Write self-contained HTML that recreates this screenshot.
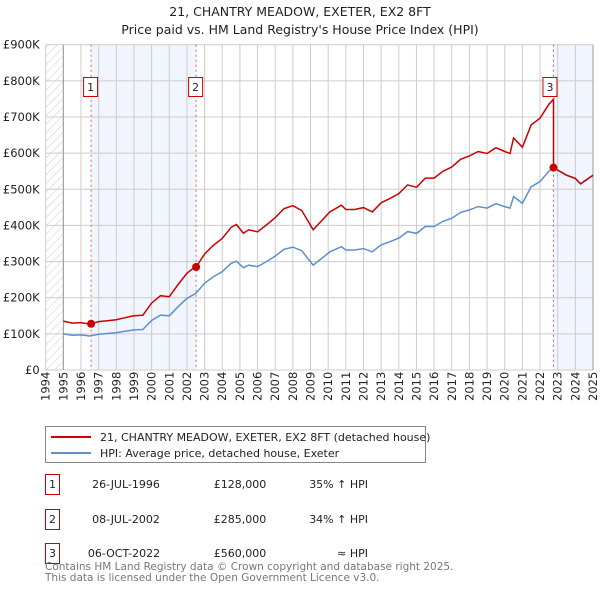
<!DOCTYPE html>
<html><head><meta charset="utf-8">
<style>
body{margin:0;background:#fff;font-family:"DejaVu Sans","Liberation Sans",sans-serif;}
svg text{font-family:"DejaVu Sans","Liberation Sans",sans-serif;}
</style></head>
<body>
<svg id="chart" width="600" height="590" xmlns="http://www.w3.org/2000/svg">
<defs>
<pattern id="hatch" patternUnits="userSpaceOnUse" width="6" height="6" patternTransform="rotate(45)">
<line x1="0" y1="0" x2="0" y2="6" stroke="#ccc" stroke-width="1"/>
</pattern>
</defs>
<text x="300" y="16" text-anchor="middle" font-size="12.5" fill="#222">21, CHANTRY MEADOW, EXETER, EX2 8FT</text>
<text x="300" y="34" text-anchor="middle" font-size="12.5" fill="#222">Price paid vs. HM Land Registry's House Price Index (HPI)</text>
<g id="plot"></g>
<g>
<rect x="45.5" y="426.5" width="380" height="36" fill="#fff" stroke="#888"/>
<line x1="51" y1="437" x2="91" y2="437" stroke="#cc0000" stroke-width="2"/>
<text x="100" y="441" font-size="11" fill="#222">21, CHANTRY MEADOW, EXETER, EX2 8FT (detached house)</text>
<line x1="51" y1="453" x2="91" y2="453" stroke="#5b8fd0" stroke-width="2"/>
<text x="100" y="457" font-size="11" fill="#222">HPI: Average price, detached house, Exeter</text>
</g>
<g font-size="11" fill="#222">
<rect x="45.5" y="474.5" width="14" height="20" fill="#fff" stroke="#cc0000"/><text x="52.5" y="488" text-anchor="middle">1</text>
<text x="126" y="488" text-anchor="middle">26-JUL-1996</text><text x="240" y="488" text-anchor="middle">£128,000</text><text x="368" y="488" text-anchor="end">35% ↑ HPI</text>
<rect x="45.5" y="509.5" width="14" height="20" fill="#fff" stroke="#cc0000"/><text x="52.5" y="523" text-anchor="middle">2</text>
<text x="126" y="523" text-anchor="middle">08-JUL-2002</text><text x="240" y="523" text-anchor="middle">£285,000</text><text x="368" y="523" text-anchor="end">34% ↑ HPI</text>
<rect x="45.5" y="543.5" width="14" height="20" fill="#fff" stroke="#cc0000"/><text x="52.5" y="557" text-anchor="middle">3</text>
<text x="124" y="557" text-anchor="middle">06-OCT-2022</text><text x="240" y="557" text-anchor="middle">£560,000</text><text x="368" y="557" text-anchor="end">≈ HPI</text>
</g>
<text font-size="10.5" fill="#777"><tspan x="45" y="570">Contains HM Land Registry data © Crown copyright and database right 2025.</tspan><tspan x="45" y="581">This data is licensed under the Open Government Licence v3.0.</tspan></text>
</svg>
<script>
const hpiYears=[1995,1995.5,1996,1996.5,1997,1997.5,1998,1998.5,1999,1999.5,2000,2000.5,2001,2001.5,2002,2002.5,2003,2003.5,2004,2004.5,2004.8,2005.2,2005.5,2006,2006.5,2007,2007.5,2008,2008.5,2009.15,2010.1,2010.75,2011,2011.5,2012,2012.5,2013,2013.5,2014,2014.5,2015,2015.5,2016,2016.5,2017,2017.5,2018,2018.5,2019,2019.5,2020,2020.3,2020.5,2021,2021.5,2022,2022.5,2022.76,2023,2023.5,2024,2024.3,2025];
const hpiValues=[100000,96000,97000,94000,99000,101000,103000,107000,111000,112000,137000,152000,150000,175000,198000,212000,240000,258000,272000,295000,301000,283000,290000,286000,300000,315000,334000,340000,330000,290000,327000,341000,332000,332000,336000,327000,346000,355000,365000,383000,378000,397000,397000,411000,420000,436000,443000,452000,448000,460000,452000,448000,480000,461000,507000,521000,550000,560000,553000,539000,530000,515000,539000];
const saleYears=[1996.57,2002.52,2022.76];
const salePrices=[128000,285000,560000];
const yTicks=[0,100000,200000,300000,400000,500000,600000,700000,800000,900000];
const yTickLabels=["£0","£100K","£200K","£300K","£400K","£500K","£600K","£700K","£800K","£900K"];
const xYears=[1994,1995,1996,1997,1998,1999,2000,2001,2002,2003,2004,2005,2006,2007,2008,2009,2010,2011,2012,2013,2014,2015,2016,2017,2018,2019,2020,2021,2022,2023,2024,2025];

const NS="http://www.w3.org/2000/svg";
const g=document.getElementById('plot');
const X0=45.7,X1=593,Y0=370,Y1=44.7;
const xs=y=>X0+(y-1994)/(2025-1994)*(X1-X0);
const ys=v=>Y0-v/900000*(Y0-Y1);
function mk(tag,attrs){const e=document.createElementNS(NS,tag);for(const k in attrs)e.setAttribute(k,attrs[k]);g.appendChild(e);return e;}
function hpiAt(t){if(t<=hpiYears[0])return hpiValues[0];for(let i=1;i<hpiYears.length;i++){if(t<=hpiYears[i]){const f=(t-hpiYears[i-1])/(hpiYears[i]-hpiYears[i-1]);return hpiValues[i-1]+f*(hpiValues[i]-hpiValues[i-1]);}}return hpiValues[hpiValues.length-1];}

let e;
e=mk('rect',{x:X0,y:Y1,width:xs(1995)-X0,height:Y0-Y1,fill:'url(#hatch)'});


e=mk('rect',{x:xs(saleYears[0]),y:Y1,width:xs(saleYears[1])-xs(saleYears[0]),height:Y0-Y1,fill:'#eef3fc',opacity:0.8});


e=mk('rect',{x:xs(saleYears[2]),y:Y1,width:X1-xs(saleYears[2]),height:Y0-Y1,fill:'#eef3fc',opacity:0.8});


xYears.forEach(yr=>{
  e=mk('line',{x1:xs(yr),x2:xs(yr),y1:Y1,y2:Y0,stroke:'#ccc','stroke-width':1});
  
  
  e=mk('text',{transform:`translate(${xs(yr)+4},${Y0+31}) rotate(-90)`,'font-size':11.5,fill:'#222'});
  e.textContent=yr;
  
  
});
yTicks.forEach((v,i)=>{
  e=mk('line',{x1:X0,x2:X1,y1:ys(v),y2:ys(v),stroke:'#ccc','stroke-width':1});
  
  
  e=mk('text',{x:X0-6,y:ys(v)+4,'text-anchor':'end','font-size':11.5,fill:'#222'});
  e.textContent=yTickLabels[i];
  
  
});
e=mk('line',{x1:xs(1995),x2:xs(1995),y1:Y1,y2:Y0,stroke:'#999','stroke-width':1});


e=mk('line',{x1:X1,x2:X1,y1:Y1,y2:Y0,stroke:'#999','stroke-width':1});


saleYears.forEach((sy,i)=>{
  e=mk('line',{x1:xs(sy),x2:xs(sy),y1:Y1,y2:Y0,stroke:'#e06060','stroke-width':1,'stroke-dasharray':'2,3'});
  
  
});
// HPI line
let d='';
hpiYears.forEach((t,i)=>{d+=(i?'L':'M')+xs(t).toFixed(1)+','+ys(hpiValues[i]).toFixed(1);});
e=mk('path',{d:d,fill:'none',stroke:'#5b8fd0','stroke-width':1.5});


// Price line: HPI scaled from most recent sale; vertical jump at each later sale
const pts=[];
hpiYears.forEach(t=>pts.push({t:t,pre:false}));
saleYears.forEach((t,j)=>{pts.push({t:t,pre:false});if(j>0)pts.push({t:t,pre:true});});
pts.sort((a,b)=>a.t-b.t||(b.pre-a.pre));
let d2='';
pts.forEach((p,i)=>{
  let k=0;for(let j=0;j<saleYears.length;j++){if(p.t>=saleYears[j])k=j;}
  if(p.pre)k=k-1;
  const v=salePrices[k]*hpiAt(p.t)/hpiAt(saleYears[k]);
  d2+=(i?'L':'M')+xs(p.t).toFixed(1)+','+ys(v).toFixed(1);
});
e=mk('path',{d:d2,fill:'none',stroke:'#cc0000','stroke-width':1.5});


saleYears.forEach((sy,i)=>{
  e=mk('circle',{cx:xs(sy),cy:ys(salePrices[i]),r:4,fill:'#cc0000'});
  
  
  const bx=xs(sy)-(i==2?3:0);
  e=mk('rect',{x:bx-7.5,y:77.5,width:14,height:19,fill:'#fff',stroke:'#cc0000'});
  
  
  e=mk('text',{x:bx-0.5,y:91,'text-anchor':'middle','font-size':11,fill:'#222'});
  e.textContent=String(i+1);
  
  
});
</script>
</body></html>
